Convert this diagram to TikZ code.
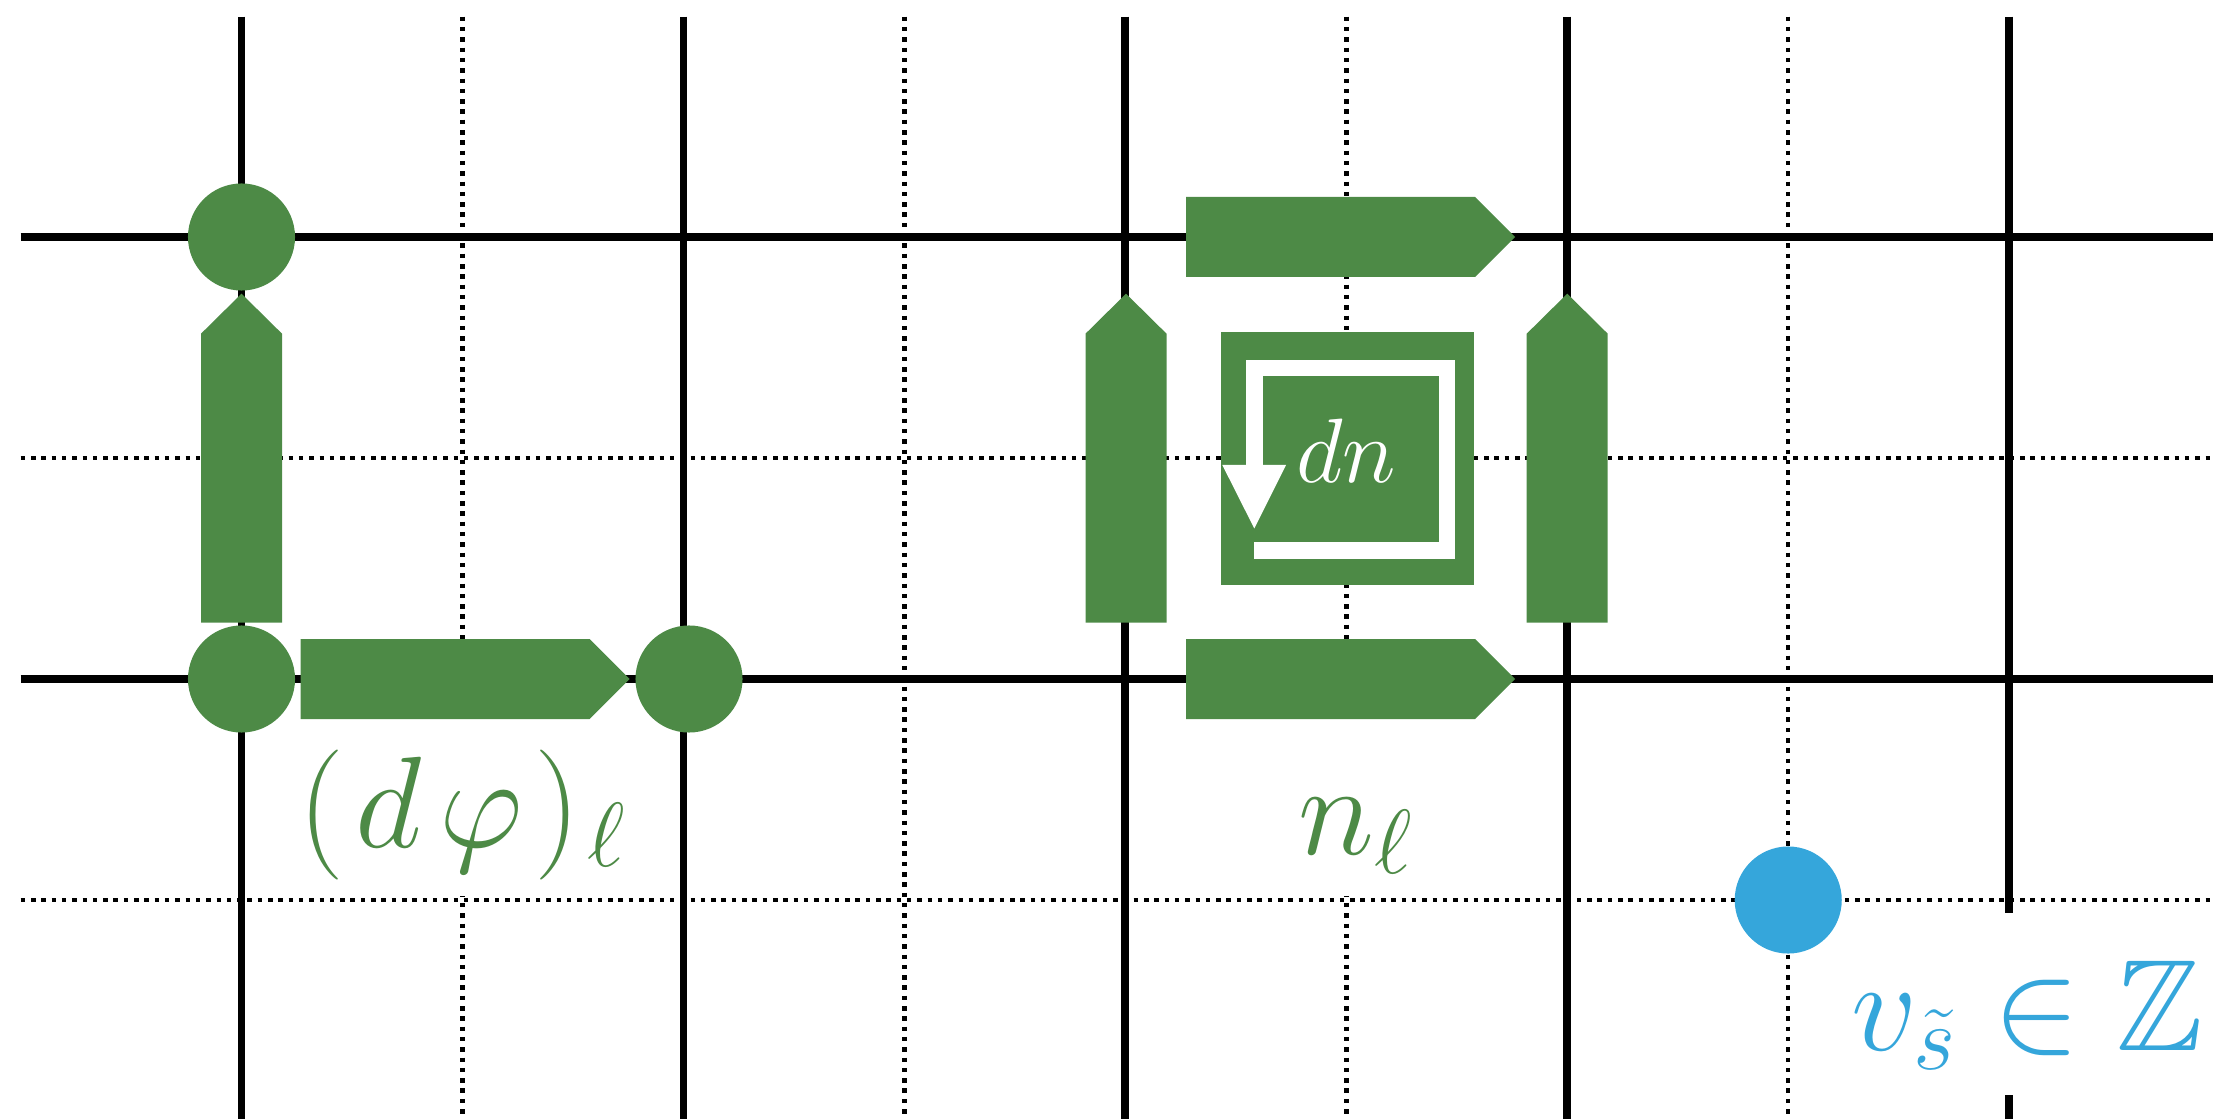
\RequirePackage{fix-cm}
\documentclass[tikz,border=0pt]{standalone}
\usepackage{amssymb}
\definecolor{gr}{RGB}{77,138,70}
\definecolor{bl}{RGB}{53,166,219}
\begin{document}
\begin{tikzpicture}[x=0.01cm,y=-0.01cm,
  solidline/.style={line width=0.077cm, black},
  dotline/.style={line width=0.045cm, black, dash pattern=on 0.045cm off 0.058cm},
  site/.style={circle, fill=#1, minimum size=1.07cm, inner sep=0pt},
  blockR/.pic={\fill[gr] (0,-40) -- (289,-40) -- (329,0) -- (289,40) -- (0,40) -- cycle;},
  blockU/.pic={\fill[gr] (-40.5,0) -- (-40.5,-289) -- (0,-329) -- (40.5,-289) -- (40.5,0) -- cycle;},
  lbl/.style={anchor=base, inner sep=0pt, font=\fontsize{37}{40}\selectfont},
  labelbg/.style={fill=white},
]
\useasboundingbox (0,0) rectangle (2213,1119);
% dotted grid lines
\foreach \x in {462.5,904.4,1346.3,1788.2}
  \draw[dotline] (\x,16.7) -- (\x,1119);
\foreach \y in {458,900}
  \draw[dotline] (20.7,\y) -- (2213,\y);
% solid grid lines
\foreach \x in {241.5,683.4,1125.3,1567.2}
  \draw[solidline] (\x,16.7) -- (\x,1119);
\draw[solidline] (2009.1,16.7) -- (2009.1,914);
\draw[solidline] (2009.1,1095) -- (2009.1,1119);
\foreach \y in {237,679}
  \draw[solidline] (20.7,\y) -- (2213,\y);
% label backgrounds
\fill[labelbg] (300,718) rectangle (629,896);
\fill[labelbg] (1186,718) rectangle (1516,896);
% left group
\pic at (241.5,622.7) {blockU};
\pic at (300.7,679) {blockR};
\node[site=gr] (s1) at (241.5,237) {};
\node[site=gr] (s2) at (241.5,679) {};
\node[site=gr] (s3) at (689,679) {};
\node[lbl, text=gr] (dphi) at (462.5,847) {$(\mkern1.5mu d\mkern2.5mu\varphi\mkern1.5mu)\mkern1mu_\ell$};
% middle group
\pic at (1186,237) {blockR};
\pic at (1186,679) {blockR};
\pic at (1126,622.7) {blockU};
\pic at (1567.2,622.7) {blockU};
\fill[gr] (1221,332) rectangle (1474,584.7);
\draw[white, line width=0.163cm] (1254,550.5) -- (1447.3,550.5) -- (1447.3,368) -- (1254.5,368) -- (1254.5,466);
\fill[white] (1222.3,465) -- (1286,465) -- (1254.3,528.5) -- cycle;
\node[anchor=base, inner sep=0pt, text=white, font=\fontsize{26}{28}\selectfont] (dn) at (1346,483) {$dn$};
\node[lbl, text=gr] (nl) at (1356.5,854) {$n_\ell$};
% blue vertex
\node[site=bl] (v) at (1788.2,900) {};
\fill[labelbg] (1846,913) rectangle (2213,1095);
\node[lbl, text=bl] (vl) at (2027.5,1050) {$v_{\tilde{s}}\in\mathbb{Z}$};
\end{tikzpicture}
\end{document}
